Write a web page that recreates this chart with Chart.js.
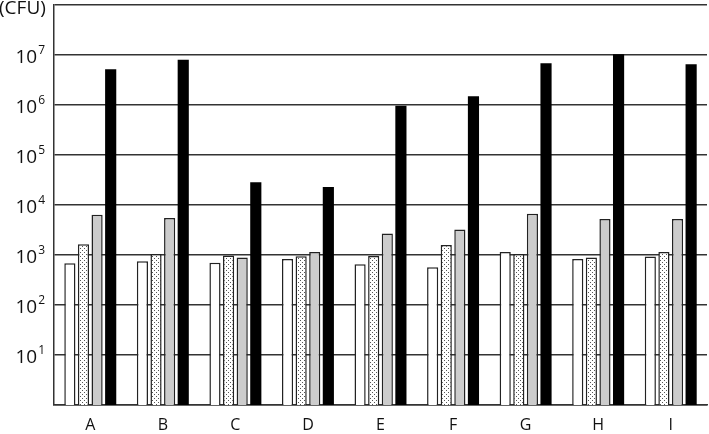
<!DOCTYPE html>
<html>
<head>
<meta charset="utf-8">
<script src="https://cdn.jsdelivr.net/npm/chart.js@4/dist/chart.umd.min.js"></script>
<style>
	html, body { margin: 0; padding: 0; background: #fff; }
	#wrap { width: 709px; height: 434px; position: relative; }
</style>
</head>
<body>
<div id="wrap"><canvas id="myChart"></canvas></div>
<script>
const categories = ["A", "B", "C", "D", "E", "F", "G", "H", "I"];
const whiteValues = [680, 750, 700, 830, 650, 570, 1150, 830, 930];
const dottedValues = [1640, 1050, 980, 940, 955, 1580, 1050, 890, 1150];
const grayValues = [6400, 5500, 890, 1150, 2700, 3250, 6700, 5250, 5250];
const blackValues = [5.2e6, 8.0e6, 2.85e4, 2.3e4, 9.7e5, 1.5e6, 6.8e6, 1.03e7, 6.5e6];
const yExponents = [1, 2, 3, 4, 5, 6, 7];
const unitLabel = "(CFU)";

const FONT = "'Open Sans', 'Noto Sans', sans-serif";

// stipple fill for the second series
function makeDots() {
	const c = document.createElement("canvas");
	c.width = 4;
	c.height = 4;
	const g = c.getContext("2d");
	g.fillStyle = "#ffffff";
	g.fillRect(0, 0, 4, 4);
	g.fillStyle = "#555555";
	g.fillRect(0, 0, 1, 1);
	g.fillRect(2, 2, 1, 1);
	return g.createPattern(c, "repeat");
}

const labelPlugin = {
	id: "labels",
	afterDraw(chart) {
		const ctx = chart.ctx;
		const y = chart.scales.y;
		const x = chart.scales.x;
		ctx.save();
		ctx.fillStyle = "#111";
		ctx.textBaseline = "middle";
		yExponents.forEach((e) => {
			const py = y.getPixelForValue(Math.pow(10, e));
			ctx.font = "19px " + FONT;
			const w10 = ctx.measureText("10").width;
			ctx.font = "12px " + FONT;
			const wExp = ctx.measureText(String(e)).width;
			const x0 = 45 - wExp - w10 - 1;
			ctx.font = "19px " + FONT;
			ctx.textAlign = "left";
			ctx.fillText("10", x0, py + 3);
			ctx.font = "12px " + FONT;
			ctx.fillText(String(e), x0 + w10 + 1, py - 4);
		});
		ctx.font = "19px " + FONT;
		ctx.textAlign = "left";
		ctx.fillText(unitLabel, -1, 9);
		ctx.font = "16px " + FONT;
		ctx.textAlign = "center";
		categories.forEach((c, i) => {
			ctx.fillText(c, x.getPixelForTick(i), 425);
		});
		ctx.restore();
	},
};

const canvas = document.getElementById("myChart");
const ctx = canvas.getContext("2d");

new Chart(ctx, {
	type: "bar",
	data: {
		labels: categories,
		datasets: [
			{ data: whiteValues, backgroundColor: "#ffffff", borderColor: "#222", borderWidth: 1.5 },
			{ data: dottedValues, backgroundColor: makeDots(), borderColor: "#222", borderWidth: 1.5 },
			{ data: grayValues, backgroundColor: "#cccccc", borderColor: "#222", borderWidth: 1.5 },
			{ data: blackValues, backgroundColor: "#000000", borderWidth: 0 },
		],
	},
	options: {
		responsive: true,
		maintainAspectRatio: false,
		animation: false,
		categoryPercentage: 0.75,
		barPercentage: 0.82,
		layout: { padding: { left: 54, right: 2, top: 5, bottom: 29 } },
		plugins: {
			legend: { display: false },
			tooltip: { enabled: false },
		},
		scales: {
			x: {
				grid: { display: false, drawTicks: false },
				border: { display: true, color: "#333", width: 1.5 },
				ticks: { display: false },
			},
			y: {
				type: "logarithmic",
				min: 1,
				max: 1e8,
				afterBuildTicks: (scale) => {
					const t = [];
					for (let e = 0; e <= 8; e++) t.push({ value: Math.pow(10, e) });
					scale.ticks = t;
				},
				grid: { color: "#333", lineWidth: 1.5, drawTicks: false },
				border: { display: true, color: "#333", width: 1.5 },
				ticks: { display: false },
			},
		},
	},
	plugins: [labelPlugin],
});
</script>
</body>
</html>
